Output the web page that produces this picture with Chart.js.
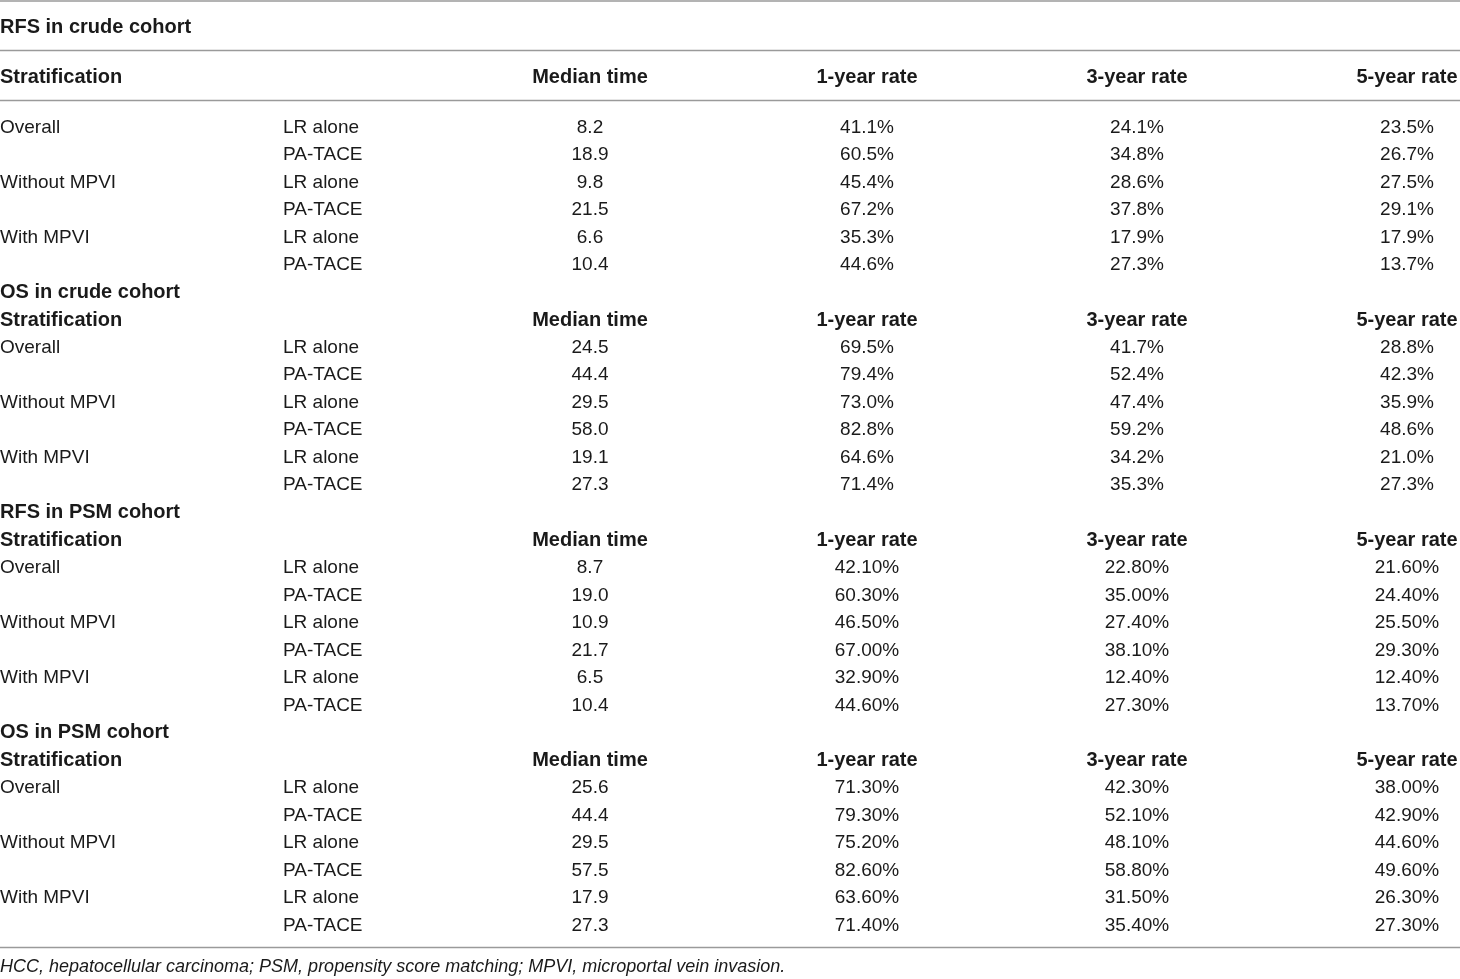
<!DOCTYPE html>
<html>
<head>
<meta charset="utf-8">
<title>RFS and OS by stratification</title>
<script src="https://cdn.jsdelivr.net/npm/chart.js@4.4.1/dist/chart.umd.min.js"></script>
<style>
    html, body { margin: 0; padding: 0; background: #ffffff; }
    #wrap { position: relative; width: 1460px; height: 979px; }
</style>
</head>
<body>
<div id="wrap"><canvas id="tableChart"></canvas></div>
<script>
// Table content
const sectionTitles = ['RFS in crude cohort', 'OS in crude cohort', 'RFS in PSM cohort', 'OS in PSM cohort'];
const columnHeaders = ['Stratification', '', 'Median time', '1-year rate', '3-year rate', '5-year rate'];
const strata = ['Overall', 'Without MPVI', 'With MPVI'];
const groups = ['LR alone', 'PA-TACE'];

// one array per section, rows: Overall LR / PA, Without LR / PA, With LR / PA
const medianTime = [
    [8.2, 18.9, 9.8, 21.5, 6.6, 10.4],
    [24.5, 44.4, 29.5, 58.0, 19.1, 27.3],
    [8.7, 19.0, 10.9, 21.7, 6.5, 10.4],
    [25.6, 44.4, 29.5, 57.5, 17.9, 27.3]
];
const rate1Year = [
    [41.1, 60.5, 45.4, 67.2, 35.3, 44.6],
    [69.5, 79.4, 73.0, 82.8, 64.6, 71.4],
    [42.1, 60.3, 46.5, 67.0, 32.9, 44.6],
    [71.3, 79.3, 75.2, 82.6, 63.6, 71.4]
];
const rate3Year = [
    [24.1, 34.8, 28.6, 37.8, 17.9, 27.3],
    [41.7, 52.4, 47.4, 59.2, 34.2, 35.3],
    [22.8, 35.0, 27.4, 38.1, 12.4, 27.3],
    [42.3, 52.1, 48.1, 58.8, 31.5, 35.4]
];
const rate5Year = [
    [23.5, 26.7, 27.5, 29.1, 17.9, 13.7],
    [28.8, 42.3, 35.9, 48.6, 21.0, 27.3],
    [21.6, 24.4, 25.5, 29.3, 12.4, 13.7],
    [38.0, 42.9, 44.6, 49.6, 26.3, 27.3]
];
const rateDecimals = [1, 1, 2, 2];
const footnote = 'HCC, hepatocellular carcinoma; PSM, propensity score matching; MPVI, microportal vein invasion.';

// Layout (canvas units)
const colAnchor = [0, 283, 590, 867, 1137, 1407];
const colAlign = ['left', 'left', 'center', 'center', 'center', 'center'];
const rowStep = 27.52;
const firstBodyRow = 127.5;
const ruleRows = [1, 50.5, 100.5, 947.5];

const regularFont = '19px "Liberation Sans", Arial, sans-serif';
const boldFont = 'bold 20px "Liberation Sans", Arial, sans-serif';
const noteFont = 'italic 18px "Liberation Sans", Arial, sans-serif';
const textColor = '#1a1a1a';

function rowY(k) {
    // k = -2 title, -1 first header, then body rows with even spacing
    if (k === -2) return 27;
    if (k === -1) return 77;
    return firstBodyRow + k * rowStep;
}

// Build a list of text cells
const cells = [];
function addCell(col, k, text, bold) {
    cells.push({ x: colAnchor[col], y: rowY(k), text: text, align: colAlign[col], bold: bold });
}

let k = -2;
sectionTitles.forEach((title, s) => {
    addCell(0, k++, title, true);
    const hk = k++;
    columnHeaders.forEach((h, c) => { if (h) addCell(c, hk, h, true); });
    for (let r = 0; r < 6; r++) {
        if (r % 2 === 0) addCell(0, k, strata[r / 2], false);
        addCell(1, k, groups[r % 2], false);
        addCell(2, k, medianTime[s][r].toFixed(1), false);
        addCell(3, k, rate1Year[s][r].toFixed(rateDecimals[s]) + '%', false);
        addCell(4, k, rate3Year[s][r].toFixed(rateDecimals[s]) + '%', false);
        addCell(5, k, rate5Year[s][r].toFixed(rateDecimals[s]) + '%', false);
        k++;
    }
});

// Draw each cell's text at its point element position
const cellTextPlugin = {
    id: 'cellText',
    afterDatasetsDraw(chart) {
        const ctx = chart.ctx;
        chart.data.datasets.forEach((ds, di) => {
            if (!ds.cellText) return;
            const meta = chart.getDatasetMeta(di);
            meta.data.forEach((pt, i) => {
                const item = ds.data[i];
                ctx.save();
                ctx.fillStyle = textColor;
                ctx.font = item.font;
                ctx.textAlign = item.align;
                ctx.textBaseline = 'middle';
                ctx.fillText(item.text, pt.x, pt.y);
                ctx.restore();
            });
        });
    }
};

const datasets = [];

// horizontal rules
ruleRows.forEach(y => {
    datasets.push({
        type: 'line',
        data: [{ x: 0, y: y }, { x: 1460, y: y }],
        borderColor: '#9a9a9a',
        borderWidth: 1.5,
        pointRadius: 0
    });
});

datasets.push({
    type: 'scatter',
    cellText: true,
    pointRadius: 0,
    data: cells.map(c => ({ x: c.x, y: c.y, text: c.text, align: c.align, font: c.bold ? boldFont : regularFont }))
});

datasets.push({
    type: 'scatter',
    cellText: true,
    pointRadius: 0,
    data: [{ x: 0, y: 967, text: footnote, align: 'left', font: noteFont }]
});

new Chart(document.getElementById('tableChart').getContext('2d'), {
    type: 'scatter',
    data: { datasets: datasets },
    options: {
        responsive: true,
        maintainAspectRatio: false,
        animation: false,
        layout: { padding: 0 },
        scales: {
            x: { type: 'linear', min: 0, max: 1460, display: false },
            y: { type: 'linear', min: 0, max: 979, reverse: true, display: false }
        },
        plugins: {
            legend: { display: false },
            tooltip: { enabled: false }
        },
        events: []
    },
    plugins: [cellTextPlugin]
});
</script>
</body>
</html>
